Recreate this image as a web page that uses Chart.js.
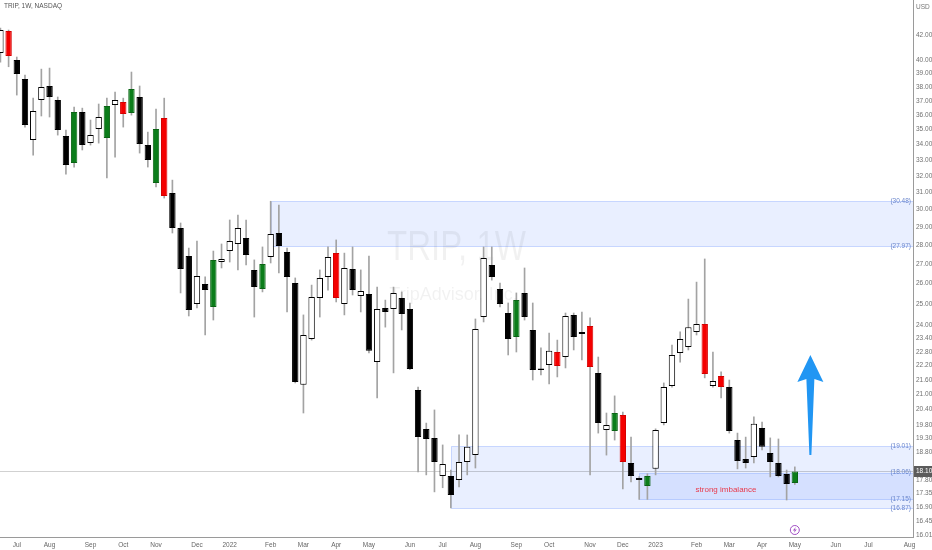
<!DOCTYPE html>
<html><head><meta charset="utf-8">
<script src="https://cdn.jsdelivr.net/npm/chart.js@4.4.0/dist/chart.umd.min.js"></script>
<style>html,body{margin:0;padding:0;background:#fff;overflow:hidden}canvas{display:block}</style>
</head><body>
<canvas id="c" width="932" height="550"></canvas>
<script>
// ---- data (weekly candles, TRIP, NASDAQ) ----
const chartTitle = 'TRIP, 1W, NASDAQ';
const currency = 'USD';
const watermark1 = 'TRIP, 1W';
const watermark2 = 'TripAdvisor, Inc.';
const firstWeek = [2021, 5, 21];   // Monday 21 Jun 2021
const weeksOnAxis = 112;

const opens = [
  40.57,42.33,40.02,38.58,34.30,37.05,38.07,37.05,34.57,32.81,
  36.20,34.10,35.04,34.43,36.70,36.91,36.13,37.27,33.97,31.57,
  35.79,30.97,28.95,27.42,25.00,25.98,24.86,27.11,27.69,28.07,
  28.39,26.70,25.73,27.37,28.67,27.64,26.03,21.39,23.37,25.29,
  26.34,27.58,25.00,26.75,25.39,25.49,22.35,24.81,24.76,25.29,
  24.76,21.18,19.64,19.31,17.94,17.94,17.80,18.43,18.68,24.38,
  26.96,25.73,24.57,23.46,25.54,23.78,22.01,22.23,22.79,22.57,
  24.48,23.60,23.96,21.89,19.61,19.57,20.18,18.40,17.87,17.60,
  18.19,19.87,21.34,22.75,23.01,23.69,24.05,21.34,21.76,21.30,
  19.23,18.54,18.61,19.68,18.76,18.40,18.01,17.70];
const highs = [
  42.57,42.41,40.26,38.88,37.19,39.33,39.41,37.27,34.97,36.55,
  36.48,35.65,36.77,37.19,37.63,37.19,39.11,38.07,34.83,36.41,
  37.19,31.75,29.23,27.85,28.23,26.34,27.69,28.07,29.40,29.68,
  29.40,27.22,27.91,30.48,30.26,27.85,26.29,24.48,25.93,26.70,
  27.91,28.29,27.58,27.91,26.70,27.42,25.83,25.19,25.83,25.59,
  25.05,21.30,19.87,20.38,19.05,18.15,19.42,19.42,24.29,27.91,
  27.91,26.03,25.05,25.54,26.80,25.05,22.97,23.64,23.32,24.57,
  24.57,24.62,24.34,22.57,20.26,20.94,20.30,19.34,17.92,18.02,
  19.65,21.47,23.10,23.69,25.24,26.08,27.27,22.79,21.93,21.59,
  19.49,19.34,20.11,19.91,19.31,19.27,18.15,18.26];
const lows = [
  39.87,39.51,37.41,35.17,33.32,35.93,35.86,34.63,32.12,32.56,
  33.65,33.97,34.10,31.88,33.19,35.17,35.99,33.45,32.56,31.33,
  30.67,28.67,25.54,24.43,24.81,23.55,24.24,26.80,27.11,26.70,
  26.96,24.38,25.59,27.06,26.54,24.62,21.47,20.26,23.32,24.38,
  25.68,25.10,24.48,25.44,24.62,22.75,20.86,23.91,21.89,23.78,
  22.03,18.08,17.98,17.40,17.54,16.87,17.57,17.98,18.22,24.15,
  26.18,24.86,22.66,22.79,24.24,21.59,21.80,21.43,21.72,22.10,
  22.88,22.44,17.98,19.49,18.68,19.23,17.50,17.74,17.15,17.15,
  17.98,19.80,21.30,22.35,22.88,23.55,21.68,21.30,20.86,19.49,
  18.19,18.22,18.40,18.87,17.91,17.91,17.13,17.65];
const closes = [
  42.41,40.33,38.96,35.31,36.27,37.99,37.27,34.97,32.69,36.20,
  33.97,34.63,35.86,36.63,37.05,36.06,37.85,34.04,33.00,35.04,
  30.79,28.95,26.75,24.71,26.39,25.68,27.22,27.27,28.23,28.95,
  27.48,25.83,27.01,28.62,27.96,26.34,21.51,23.55,25.34,26.29,
  27.37,25.29,26.80,25.68,25.64,22.84,24.76,24.62,25.54,24.52,
  22.06,19.34,19.27,18.43,18.36,17.30,18.43,18.98,23.82,27.32,
  26.34,25.00,23.37,25.19,24.38,22.01,22.08,22.84,22.18,24.43,
  23.46,23.69,22.14,19.87,19.80,20.26,18.43,17.94,17.80,17.94,
  19.61,21.30,22.66,23.37,23.91,24.05,21.84,21.55,21.30,19.57,
  18.47,18.40,19.84,18.98,18.43,17.94,17.67,18.10];
// W = up, B = down, G / R = highlighted bars
const barKind = [
  'W','R','B','B','W','W','B','B','B','G',
  'B','W','W','G','W','R','G','B','B','G',
  'R','B','B','B','W','B','G','W','W','W',
  'B','B','G','W','B','B','B','W','W','W',
  'W','R','W','B','W','B','W','B','W','B',
  'B','B','B','B','W','B','W','W','W','W',
  'B','B','B','G','B','B','W','W','R','W',
  'B','W','R','B','W','G','R','B','B','G',
  'W','W','W','W','W','W','R','W','R','B',
  'B','B','W','B','B','B','B','G'];

const yTicks = [16.01,16.45,16.90,17.35,17.80,18.80,19.30,19.80,20.40,21.00,21.60,22.20,22.80,23.40,
  24.00,25.00,26.00,27.00,28.00,29.00,30.00,31.00,32.00,33.00,34.00,35.00,36.00,37.00,38.00,39.00,40.00,42.00];
const monthNames = ['Jan','Feb','Mar','Apr','May','Jun','Jul','Aug','Sep','Oct','Nov','Dec'];

// zones (start week index, upper price, lower price)
const zoneStart = [33, 55, 78];
const zoneTop = [30.48, 19.01, 18.06];
const zoneBottom = [27.97, 16.87, 17.15];
const noteText = 'strong imbalance';
const noteWeek = 88.6, notePrice = 17.47;
const arrowWeek = 98.9, arrowFrom = 18.68, arrowTo = 22.66;
const eventWeek = 97;

// ---- build ----
const t0 = Date.UTC(firstWeek[0], firstWeek[1], firstWeek[2]);
const monthTicks = [];
let prevM = new Date(t0).getUTCMonth();
for (let i = 1; i < weeksOnAxis; i++) {
  const d = new Date(t0 + i * 7 * 864e5);
  const m = d.getUTCMonth();
  if (m !== prevM) monthTicks.push({value: i, label: m === 0 ? String(d.getUTCFullYear()) : monthNames[m]});
  prevM = m;
}
const tickLabel = {};
monthTicks.forEach(t => tickLabel[t.value] = t.label);

const fills = {W:'#ffffff', B:'#000000', G:'#0b7d1a', R:'#f40000'};
const edges = {W:'#000000', B:'#000000', G:'#0a6414', R:'#d40000'};
const bodyData = opens.map((o, i) => ({x: i, y: [o, closes[i]]}));
const wickData = lows.map((l, i) => ({x: i, y: [l, highs[i]]}));

const SMALL = '6.5px "Liberation Sans", Arial, sans-serif';

const overlay = {
  id: 'overlay',
  beforeDatasetsDraw(chart) {
    const {ctx, chartArea: a, scales: {x, y}} = chart;
    ctx.save();
    ctx.beginPath(); ctx.rect(a.left, a.top, a.width, a.height); ctx.clip();
    zoneStart.forEach((s, i) => {
      const x0 = Math.round(x.getPixelForValue(s)) + 0.5;
      const y0 = Math.round(y.getPixelForValue(zoneTop[i])) + 0.5;
      const y1 = Math.round(y.getPixelForValue(zoneBottom[i])) + 0.5;
      ctx.fillStyle = 'rgba(41,98,255,0.10)';
      ctx.fillRect(x0, y0, a.right - x0, y1 - y0);
      ctx.strokeStyle = 'rgba(41,98,255,0.22)';
      ctx.lineWidth = 1;
      ctx.beginPath();
      ctx.moveTo(a.right, y0); ctx.lineTo(x0, y0); ctx.lineTo(x0, y1); ctx.lineTo(a.right, y1);
      ctx.stroke();
    });
    // watermark
    const cx = (a.left + a.right) / 2;
    ctx.fillStyle = 'rgba(0,0,0,0.055)';
    ctx.textAlign = 'center'; ctx.textBaseline = 'middle';
    ctx.font = '43px "Liberation Sans", Arial, sans-serif';
    const w1 = ctx.measureText(watermark1).width;
    ctx.save(); ctx.translate(cx, a.top + a.height * 0.462); ctx.scale(139 / w1, 1);
    ctx.fillText(watermark1, 0, 0); ctx.restore();
    ctx.font = '18px "Liberation Sans", Arial, sans-serif';
    ctx.fillText(watermark2, cx - 3, a.top + a.height * 0.55);
    // last price line
    const yp = Math.round(y.getPixelForValue(closes[closes.length - 1])) + 0.5;
    ctx.strokeStyle = 'rgba(0,0,0,0.18)';
    ctx.beginPath(); ctx.moveTo(a.left, yp); ctx.lineTo(a.right, yp); ctx.stroke();
    ctx.restore();
  },
  afterDatasetsDraw(chart) {
    const {ctx, chartArea: a, scales: {x, y}} = chart;
    ctx.save();
    // zone price labels
    ctx.font = SMALL; ctx.fillStyle = '#6a86cc'; ctx.textAlign = 'right'; ctx.textBaseline = 'middle';
    zoneStart.forEach((s, i) => {
      [zoneTop[i], zoneBottom[i]].forEach(v => ctx.fillText('(' + v.toFixed(2) + ')', a.right - 2, y.getPixelForValue(v)));
    });
    // note
    ctx.font = '8px "Liberation Sans", Arial, sans-serif'; ctx.fillStyle = '#e8394a'; ctx.textAlign = 'center';
    ctx.fillText(noteText, x.getPixelForValue(noteWeek), y.getPixelForValue(notePrice));
    // arrow
    const ax = x.getPixelForValue(arrowWeek), yt = y.getPixelForValue(arrowTo), yb = y.getPixelForValue(arrowFrom);
    ctx.fillStyle = '#2196f3';
    ctx.beginPath();
    ctx.moveTo(ax, yt);
    ctx.lineTo(ax + 13, yt + 27);
    ctx.lineTo(ax + 4, yt + 24);
    ctx.lineTo(ax + 1, yb);
    ctx.lineTo(ax - 1, yb);
    ctx.lineTo(ax - 4, yt + 24);
    ctx.lineTo(ax - 13, yt + 27);
    ctx.closePath(); ctx.fill();
    // event marker
    const ex = x.getPixelForValue(eventWeek), ey = a.bottom - 7;
    ctx.fillStyle = '#fff'; ctx.strokeStyle = '#a24fc4'; ctx.lineWidth = 1;
    ctx.beginPath(); ctx.arc(ex, ey, 4.5, 0, Math.PI * 2); ctx.fill(); ctx.stroke();
    ctx.fillStyle = '#a24fc4';
    ctx.beginPath();
    ctx.moveTo(ex + 1, ey - 3); ctx.lineTo(ex - 2, ey + 0.5); ctx.lineTo(ex, ey + 0.5);
    ctx.lineTo(ex - 1, ey + 3); ctx.lineTo(ex + 2, ey - 0.5); ctx.lineTo(ex, ey - 0.5);
    ctx.closePath(); ctx.fill();
    ctx.restore();
  },
  afterDraw(chart) {
    const {ctx, chartArea: a, scales: {y}} = chart;
    ctx.save();
    ctx.font = SMALL; ctx.textBaseline = 'middle'; ctx.textAlign = 'left';
    ctx.fillStyle = '#555';
    ctx.fillText(chartTitle, 4, 6.5);
    ctx.fillStyle = '#777';
    ctx.fillText(currency, a.right + 3, 7);
    const last = closes[closes.length - 1];
    const yp = y.getPixelForValue(last);
    ctx.fillStyle = '#5b5b5b';
    ctx.fillRect(a.right + 1, Math.round(yp) - 5, 19, 11);
    ctx.fillStyle = '#fff';
    ctx.fillText(last.toFixed(2), a.right + 3, Math.round(yp) + 0.5);
    ctx.restore();
  }
};

new Chart(document.getElementById('c'), {
  type: 'bar',
  data: {
    datasets: [
      {
        label: 'body', data: bodyData, grouped: false, order: 1,
        backgroundColor: barKind.map(k => fills[k]),
        borderColor: barKind.map(k => edges[k]),
        borderWidth: 1, borderSkipped: false, minBarLength: 1,
        categoryPercentage: 1, barPercentage: 0.78
      },
      {
        label: 'wick', data: wickData, grouped: false, order: 2,
        backgroundColor: '#a3a3a3', borderWidth: 0, barThickness: 1
      }
    ]
  },
  options: {
    responsive: false, devicePixelRatio: 1, animation: false,
    layout: {padding: 0},
    plugins: {legend: {display: false}, tooltip: {enabled: false}},
    scales: {
      x: {
        type: 'linear', offset: false, min: -0.05, max: 111.43,
        grid: {display: false, drawTicks: false},
        border: {display: true, color: '#9a9a9a'},
        afterBuildTicks: s => { s.ticks = monthTicks.map(t => ({value: t.value})); },
        afterFit: s => { s.height = 13; s.paddingLeft = 0; s.paddingRight = 0; },
        ticks: {autoSkip: false, maxRotation: 0, padding: 4, color: '#666',
          font: {family: '"Liberation Sans", Arial, sans-serif', size: 6.5},
          callback: v => tickLabel[v] || ''}
      },
      y: {
        type: 'logarithmic', position: 'right', min: 15.95, max: 44.94,
        grid: {display: false, drawTicks: false},
        border: {display: true, color: '#9a9a9a'},
        afterBuildTicks: s => { s.ticks = yTicks.map(v => ({value: v})); },
        afterFit: s => { s.width = 19; s.paddingTop = 0; s.paddingBottom = 0; },
        ticks: {autoSkip: false, padding: 3, color: '#707070',
          font: {family: '"Liberation Sans", Arial, sans-serif', size: 6.5},
          callback: v => Number(v).toFixed(2)}
      }
    }
  },
  plugins: [overlay]
});
</script>
</body></html>
